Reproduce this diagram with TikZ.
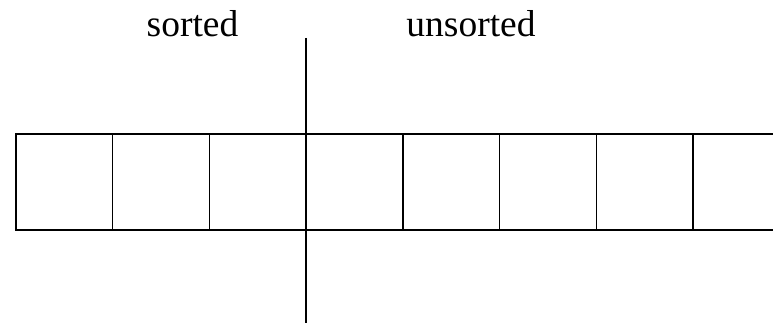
\documentclass[tikz,border=0pt]{standalone}
\usepackage{fontspec}
\setmainfont{Liberation Serif}
\begin{document}
\begin{tikzpicture}[x=1pt,y=1pt,
  cell/.style={draw,line width=1.4pt,minimum width=96.7pt,minimum height=96pt,inner sep=0pt,outer sep=0pt,anchor=north west},
  lbl/.style={font=\fontsize{37.5}{40}\selectfont,anchor=base,inner sep=0pt}]
\useasboundingbox (0,0) rectangle (773,323);
\foreach \i in {0,...,7}{
  \node[cell] (c\i) at ({16+96.7*\i},{323-134}) {};
}
\node[lbl] (sorted) at (192.5,286) {sorted};
\node[lbl] (unsorted) at (471,286) {unsorted};
\coordinate (ltop) at (306,{323-38});
\coordinate (lbot) at (306,0);
\draw[line width=1.4pt] (ltop) -- (lbot);
\end{tikzpicture}
\end{document}
